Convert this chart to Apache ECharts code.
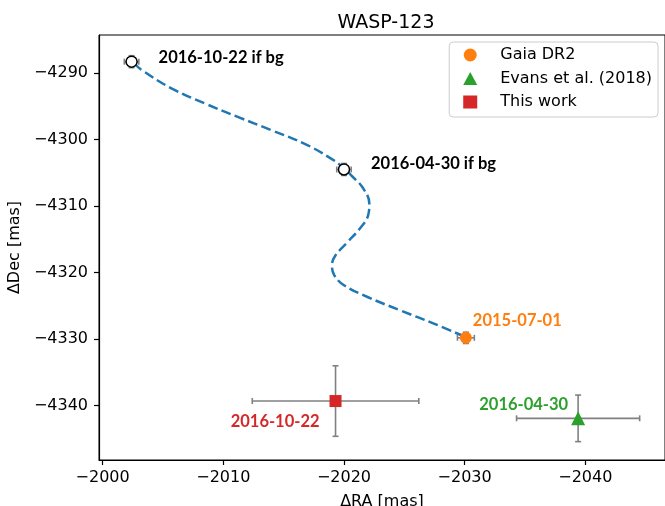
<!DOCTYPE html>
<html>
<head>
<meta charset="utf-8">
<script src="https://cdn.jsdelivr.net/npm/echarts@6/dist/echarts.min.js"></script>
<style>html,body{margin:0;padding:0;background:#fff}#c{width:665px;height:506px}</style>
</head>
<body>
<div id="c"></div>
<script>
// ---- data ----
const xTicks = [-2000, -2010, -2020, -2030, -2040];
const yTicks = [-4290, -4300, -4310, -4320, -4330, -4340];

// predicted background track (dashed)
const trackRA  = [-2002.6, -2003.2, -2005.7, -2008.5, -2011.2, -2014.0, -2016.7, -2018.7, -2020.1,
                  -2020.6, -2021.5, -2022.1, -2022.0, -2021.3, -2020.3, -2019.3, -2019.0, -2019.2,
                  -2020.0, -2022.0, -2024.7, -2027.5, -2030.1];
const trackDec = [-4288.5, -4289.5, -4292.3, -4294.6, -4296.6, -4298.6, -4300.6, -4302.6, -4304.4,
                  -4305.4, -4307.1, -4309.6, -4311.4, -4313.4, -4315.4, -4317.4, -4318.9, -4320.4,
                  -4321.9, -4323.7, -4325.7, -4327.7, -4329.7];

// measurements
const measNames  = ['Gaia DR2', 'Evans et al. (2018)', 'This work'];
const measDates  = ['2015-07-01', '2016-04-30', '2016-10-22'];
const measRA     = [-2030.1, -2039.4, -2019.3];
const measDec    = [-4329.8, -4341.9, -4339.3];
const measRAerr  = [0.7, 5.1, 6.9];
const measDecErr = [0.85, 3.5, 5.3];

// predicted positions if background
const bgLabels = ['2016-10-22 if bg', '2016-04-30 if bg'];
const bgRA     = [-2002.4, -2020.0];
const bgDec    = [-4288.3, -4304.5];
const bgRAerr  = [0.6, 0.6];
const bgDecErr = [0.9, 0.9];

// ---- styling ----
const colors  = ['#ff7f0e', '#2ca02c', '#d62728'];
const symbols = ['circle', 'triangle', 'rect'];
const symSizes = [12, 14, 12];
const labelCfg = [
  {align: 'left',  offset: [7, -17]},
  {align: 'right', offset: [-10, -14]},
  {align: 'right', offset: [-16, 21]}
];
const bgLabelCfg = [
  {align: 'left', offset: [27, -4]},
  {align: 'left', offset: [27, -6]}
];
const minus = v => String(v).replace('-', '\u2212');
const tickFont = {fontFamily: 'DejaVu Sans', fontSize: 16, color: '#000'};
const annFont = {fontFamily: 'Lato', fontWeight: 'bold', fontSize: 16.5};

function errData(ra, dec, rae, dece) {
  return ra.map((x, i) => [x, dec[i], rae[i], dece[i]]);
}
function errRender(params, api) {
  const x = api.value(0), y = api.value(1), ex = api.value(2), ey = api.value(3);
  const l = api.coord([x - ex, y]), r = api.coord([x + ex, y]);
  const t = api.coord([x, y + ey]), b = api.coord([x, y - ey]);
  const cap = 3;
  const st = {stroke: '#808080', lineWidth: 1.6};
  const line = (x1, y1, x2, y2) => ({type: 'line', shape: {x1, y1, x2, y2}, style: st});
  return {type: 'group', children: [
    line(l[0], l[1], r[0], r[1]),
    line(t[0], t[1], b[0], b[1]),
    line(l[0], l[1] - cap, l[0], l[1] + cap),
    line(r[0], r[1] - cap, r[0], r[1] + cap),
    line(t[0] - cap, t[1], t[0] + cap, t[1]),
    line(b[0] - cap, b[1], b[0] + cap, b[1])
  ]};
}

const series = [];
series.push({
  type: 'line', name: 'track', data: trackRA.map((x, i) => [x, trackDec[i]]),
  smooth: 0.4, showSymbol: false, symbol: 'none', silent: true, z: 1,
  lineStyle: {color: '#1f77b4', width: 2.5, type: [10, 4.3]}
});
series.push({
  type: 'custom', name: 'bgerr', renderItem: errRender, z: 2, silent: true,
  data: errData(bgRA, bgDec, bgRAerr, bgDecErr)
});
series.push({
  type: 'scatter', name: 'bg', z: 5, symbol: 'circle', symbolSize: 11,
  itemStyle: {color: '#fff', borderColor: '#000', borderWidth: 1.5, opacity: 1},
  data: bgRA.map((x, i) => ({
    value: [x, bgDec[i]],
    label: {show: true, position: 'inside', formatter: bgLabels[i], color: '#000',
            align: bgLabelCfg[i].align, verticalAlign: 'middle', offset: bgLabelCfg[i].offset, ...annFont}
  }))
});
measNames.forEach((n, i) => {
  series.push({
    type: 'custom', name: n, renderItem: errRender, z: 2, silent: true,
    itemStyle: {color: colors[i]},
    data: errData([measRA[i]], [measDec[i]], [measRAerr[i]], [measDecErr[i]])
  });
  series.push({
    type: 'scatter', name: n, z: 5, symbol: symbols[i], symbolSize: symSizes[i],
    itemStyle: {color: colors[i], opacity: 1},
    data: [{
      value: [measRA[i], measDec[i]],
      label: {show: true, position: 'inside', formatter: measDates[i], color: colors[i],
              align: labelCfg[i].align, verticalAlign: 'middle', offset: labelCfg[i].offset, ...annFont}
    }]
  });
});

const chart = echarts.init(document.getElementById('c'), null, {renderer: 'canvas'});
chart.setOption({
  animation: false,
  backgroundColor: '#fff',
  title: {text: 'WASP-123', left: 381, top: 9, textAlign: 'center',
          textStyle: {fontFamily: 'DejaVu Sans', fontSize: 19, fontWeight: 'normal', color: '#000'}},
  grid: {left: 99, top: 35, right: 0, bottom: 46, show: true, borderColor: '#000', borderWidth: 1,
         backgroundColor: 'transparent', containLabel: false, outerBoundsMode: 'none'},
  legend: {
    data: measNames.map((n, i) => ({name: n, icon: symbols[i]})),
    orient: 'vertical', right: 7, top: 42, itemWidth: 14, itemHeight: 13, itemGap: 5.5,
    padding: [4, 6, 6, 14], borderColor: '#cccccc', borderWidth: 1, borderRadius: 4,
    backgroundColor: 'rgba(255,255,255,0.8)',
    textStyle: {fontFamily: 'DejaVu Sans', fontSize: 16, lineHeight: 18, color: '#000', padding: [0, 0, 0, 18]}
  },
  xAxis: {
    type: 'value', inverse: true, min: -2046.6, max: -1999.7,
    name: '\u0394RA [mas]', nameLocation: 'middle', nameGap: 34,
    nameTextStyle: {fontFamily: 'DejaVu Sans', fontSize: 16, color: '#000'},
    axisLine: {onZero: false, lineStyle: {color: '#000', width: 1.2}},
    axisTick: {show: true, length: 5, inside: false, customValues: xTicks, lineStyle: {color: '#000', width: 1.2}},
    axisLabel: {customValues: xTicks, formatter: minus, margin: 10, ...tickFont},
    splitLine: {show: false}
  },
  yAxis: {
    type: 'value', min: -4348.16, max: -4284.29,
    name: '\u0394Dec [mas]', nameLocation: 'middle', nameGap: 62, nameRotate: 90,
    nameTextStyle: {fontFamily: 'DejaVu Sans', fontSize: 16, color: '#000'},
    axisLine: {onZero: false, lineStyle: {color: '#000', width: 1.2}},
    axisTick: {show: true, length: 5, inside: false, customValues: yTicks, lineStyle: {color: '#000', width: 1.2}},
    axisLabel: {customValues: yTicks, formatter: minus, margin: 11, ...tickFont},
    splitLine: {show: false}
  },
  series: series
});
</script>
</body>
</html>
